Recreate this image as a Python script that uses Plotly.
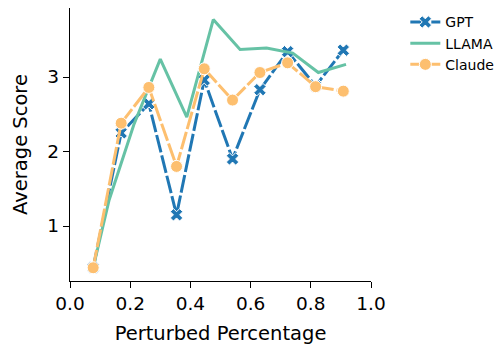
import plotly.graph_objects as go

# Average score per perturbation level for each model
gpt_x = [0.077, 0.170, 0.262, 0.354, 0.446, 0.540, 0.631, 0.723, 0.816, 0.908]
gpt_y = [0.44, 2.25, 2.64, 1.15, 2.96, 1.90, 2.83, 3.34, 2.88, 3.36]

llama_x = [0.077, 0.130, 0.212, 0.300, 0.388, 0.476, 0.565, 0.653, 0.740, 0.825, 0.917]
llama_y = [0.44, 1.35, 2.36, 3.24, 2.46, 3.77, 3.37, 3.39, 3.32, 3.06, 3.17]

claude_x = [0.077, 0.170, 0.262, 0.354, 0.446, 0.540, 0.631, 0.723, 0.816, 0.908]
claude_y = [0.44, 2.38, 2.86, 1.80, 3.11, 2.69, 3.06, 3.19, 2.87, 2.81]

x_ticks = [0.0, 0.2, 0.4, 0.6, 0.8, 1.0]
y_ticks = [1, 2, 3]

BLUE = "#2077b4"
GREEN = "#66c2a5"
ORANGE = "#fdbf6f"
FONT = "DejaVu Sans"

fig = go.Figure()
fig.add_trace(go.Scatter(
    x=gpt_x, y=gpt_y, name="GPT", mode="lines+markers",
    line=dict(color=BLUE, width=3, dash="18px,3px"),
    marker=dict(symbol="x", size=11, color=BLUE, line=dict(color="white", width=1)),
))
fig.add_trace(go.Scatter(
    x=llama_x, y=llama_y, name="LLAMA", mode="lines",
    line=dict(color=GREEN, width=3),
))
fig.add_trace(go.Scatter(
    x=claude_x, y=claude_y, name="Claude", mode="lines+markers",
    line=dict(color=ORANGE, width=3, dash="18px,3px"),
    marker=dict(symbol="circle", size=12, color=ORANGE, line=dict(color="white", width=1)),
))

axis_common = dict(
    showline=True, linecolor="black", linewidth=1.4,
    ticks="outside", ticklen=6, tickwidth=1.4, tickcolor="black",
    showgrid=False, zeroline=False,
    tickfont=dict(family=FONT, size=18.5, color="black"),
)

fig.update_xaxes(
    range=[0, 1.0], tickvals=x_ticks, tickformat=".1f",
    title=dict(text="Perturbed Percentage", font=dict(family=FONT, size=19.5, color="black"), standoff=12),
    **axis_common,
)
fig.update_yaxes(
    range=[0.262, 3.926], tickvals=y_ticks,
    title=dict(text="Average Score", font=dict(family=FONT, size=19.5, color="black"), standoff=14),
    **axis_common,
)

fig.update_layout(
    width=501, height=348,
    margin=dict(l=70, r=130, t=8, b=67, autoexpand=False),
    plot_bgcolor="white", paper_bgcolor="white",
    font=dict(family=FONT, color="black"),
    legend=dict(
        x=1.114, y=1.006, xanchor="left", yanchor="top",
        font=dict(family=FONT, size=14, color="black"),
        bgcolor="rgba(0,0,0,0)", borderwidth=0,
    ),
)

fig.write_html("out.html")
